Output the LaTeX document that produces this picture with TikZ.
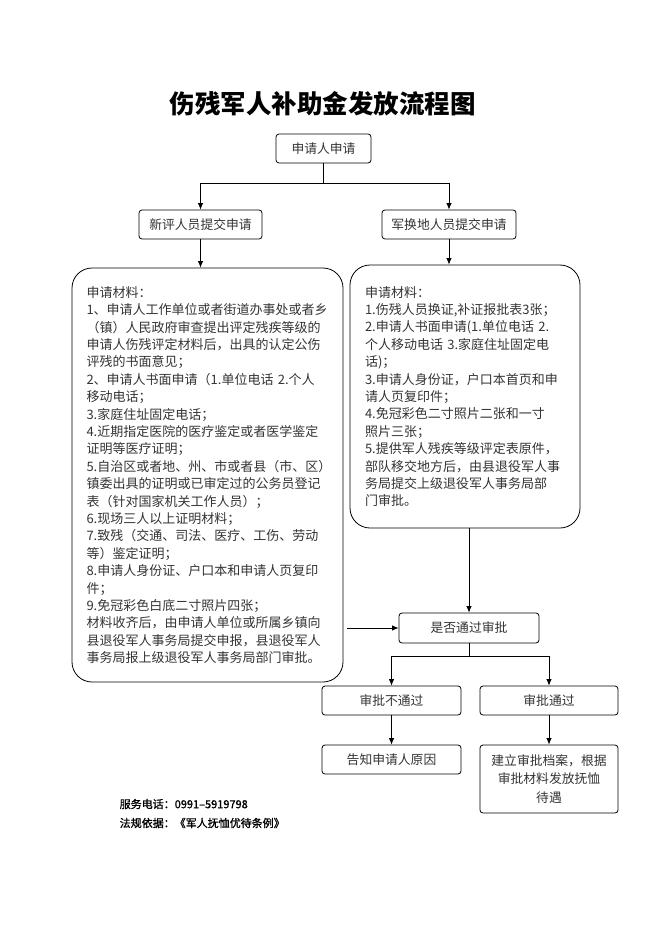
\documentclass[tikz,border=0pt]{standalone}
\usepackage{fontspec}
\setmainfont{Noto Sans CJK SC}
\newfontfamily\footfont[BoldFont=Noto Sans CJK SC, BoldFeatures={FakeBold=1.2}]{Noto Sans CJK SC}
\usetikzlibrary{positioning,arrows.meta}

\tikzset{
  box/.style={draw, rounded corners=3pt, minimum height=29pt, inner sep=2pt,
    text=black!80, font=\fontsize{12.8}{15}\selectfont},
  matbox/.style={draw, rounded corners=20pt, align=left, inner sep=0pt,
    text=black!80, font=\fontsize{13}{17.4}\selectfont},
  footnote/.style={anchor=west, font=\footfont\bfseries\fontsize{11}{14}\selectfont},
}

\begin{document}
\begin{tikzpicture}[x=1pt, y=-1pt, line width=0.8pt, >={Latex[length=6.5pt,width=5.5pt]}]
   \useasboundingbox (0,0) rectangle (662,936);
   \node[font=\fontsize{25.5}{30}\selectfont\bfseries] (title) at (322.5,104) {伤残军人补助金发放流程图};

   \node[box, minimum width=95pt] (apply) at (323.5,148.5) {申请人申请};
   \node[box, minimum width=123pt] (newapp) at (200.5,224.5) {新评人员提交申请};
   \node[box, minimum width=134pt] (transfer) at (449,224.5) {军换地人员提交申请};

   % application materials
   \node[matbox, minimum width=271pt, minimum height=414pt, text width=242pt] (leftmat) at (207.5,475) {%
     申请材料：\\
     1、申请人工作单位或者街道办事处或者乡\\
     （镇）人民政府审查提出评定残疾等级的\\
     申请人伤残评定材料后，出具的认定公伤\\
     评残的书面意见；\\
     2、申请人书面申请（1.单位电话 2.个人\\
     移动电话；\\
     3.家庭住址固定电话；\\
     4.近期指定医院的医疗鉴定或者医学鉴定\\
     证明等医疗证明；\\
     5.自治区或者地、州、市或者县（市、区）\\
     镇委出具的证明或已审定过的公务员登记\\
     表（针对国家机关工作人员）；\\
     6.现场三人以上证明材料；\\
     7.致残（交通、司法、医疗、工伤、劳动\\
     等）鉴定证明；\\
     8.申请人身份证、户口本和申请人页复印\\
     件；\\
     9.免冠彩色白底二寸照片四张；\\
     材料收齐后，由申请人单位或所属乡镇向\\
     县退役军人事务局提交申报，县退役军人\\
     事务局报上级退役军人事务局部门审批。};
   \node[matbox, minimum width=230pt, minimum height=263pt, text width=200pt] (rightmat) at (465,396.5) {%
     申请材料：\\
     1.伤残人员换证,补证报批表3张；\\
     2.申请人书面申请(1.单位电话 2.\\
     个人移动电话 3.家庭住址固定电\\
     话)；\\
     3.申请人身份证，户口本首页和申\\
     请人页复印件；\\
     4.免冠彩色二寸照片二张和一寸\\
     照片三张；\\
     5.提供军人残疾等级评定表原件，\\
     部队移交地方后，由县退役军人事\\
     务局提交上级退役军人事务局部\\
     门审批。};

   \node[box, minimum width=140pt, minimum height=30pt] (check) at (469,628) {是否通过审批};
   \node[box, minimum width=139pt] (reject) at (391.5,700.5) {审批不通过};
   \node[box, minimum width=138pt] (pass) at (549,700.5) {审批通过};
   \node[box, minimum width=139pt] (notify) at (391.5,759.5) {告知申请人原因};
   \node[box, minimum width=138pt, minimum height=68pt, align=center,
     font=\fontsize{12.8}{18.6}\selectfont] (archive) at (549,779) {建立审批档案，根据\\审批材料发放抚恤\\待遇};

   \node[footnote] (phone) at (116,804) {服务电话：0991–5919798};
   \node[footnote] (law) at (116,823) {法规依据：《军人抚恤优待条例》};

   % connectors
   \coordinate (split) at (323.5,183);
   \coordinate (fork) at (469,656);
   \draw (apply) -- (split);
   \draw[->] (split) -| (newapp);
   \draw[->] (split) -| (transfer);
   \draw[->] (newapp) -- (newapp |- leftmat.north);
   \draw[->] (transfer) -- (transfer |- rightmat.north);
   \draw[->] (check |- rightmat.south) -- (check);
   \draw[->, shorten <=4pt] (leftmat.east |- check) -- (check);
   \draw (check) -- (fork);
   \draw[->] (fork) -| (reject);
   \draw[->] (fork) -| (pass);
   \draw[->] (reject) -- (notify);
   \draw[->] (pass) -- (archive);
\end{tikzpicture}
\end{document}
